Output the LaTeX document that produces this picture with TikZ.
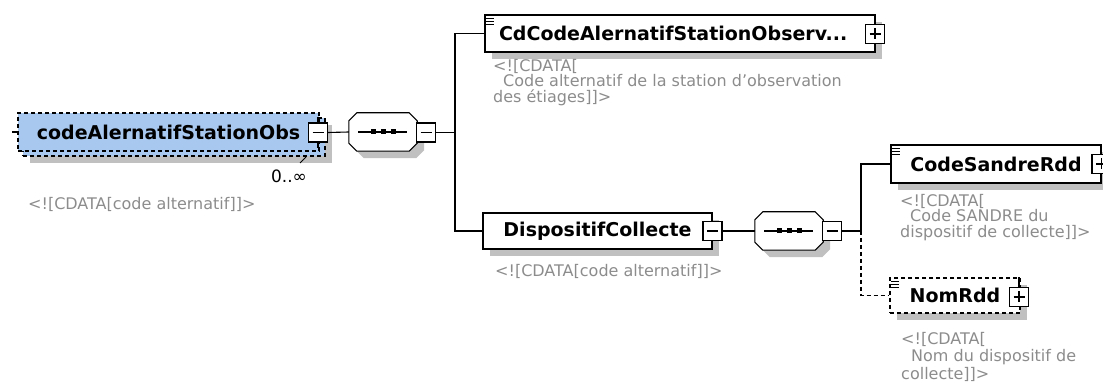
\documentclass[tikz,border=0pt]{standalone}
\usepackage{fontspec}
\setmainfont{DejaVu Sans}
\usepackage{xcolor}
\usetikzlibrary{shapes, arrows, positioning, calc, shadows}

\definecolor{elemblue}{RGB}{168,200,240}
\definecolor{shadowgray}{RGB}{192,192,192}
\definecolor{notegray}{RGB}{140,140,140}

% octagon of a sequence compositor, around an empty node
\newcommand{\octagon}[1]{($(#1.north west)+(8,0)$) -- ($(#1.north east)+(-8,0)$) -- ($(#1.north east)+(0,8)$)
  -- ($(#1.south east)+(0,-8)$) -- ($(#1.south east)+(-8,0)$) -- ($(#1.south west)+(8,0)$)
  -- ($(#1.south west)+(0,-8)$) -- ($(#1.north west)+(0,8)$) -- cycle}

\tikzset{
  box/.style={draw, fill=white, line width=1.1pt, inner sep=0, font=\bfseries\fontsize{19}{22}\selectfont},
  shade/.style={general shadow={fill=shadowgray, shadow xshift=7pt, shadow yshift=-7pt}},
  elem/.style={box, shade},
  optelem/.style={box, shade, dash pattern=on 4pt off 3pt},
  seqbox/.style={minimum width=68, minimum height=38, inner sep=0},
  seqline/.style={draw, fill=white, line width=1.1pt, shade},
  pmbox/.style={draw, fill=white, line width=1.1pt, minimum size=19, inner sep=0},
  minus/.style={pmbox, path picture={
    \draw[line width=1.1pt] ([xshift=4pt]path picture bounding box.west) -- ([xshift=-4pt]path picture bounding box.east);}},
  plus/.style={pmbox, path picture={
    \draw[line width=1.1pt] ([xshift=4pt]path picture bounding box.west) -- ([xshift=-4pt]path picture bounding box.east);
    \draw[line width=1.1pt] ([yshift=-4pt]path picture bounding box.north) -- ([yshift=4pt]path picture bounding box.south);}},
  conn/.style={line width=1.1pt},
  note/.style={text=notegray, font=\fontsize{16}{15.5}\selectfont, align=left, inner sep=0, anchor=north west}
}

\begin{document}
\begin{tikzpicture}[x=1pt, y=-1pt]
  \useasboundingbox (0,0) rectangle (1103,387);

  % root element (0..oo, so two boxes)
  \node[optelem, fill=elemblue, minimum width=302, minimum height=38] (rootback) at (174,137) {};
  \node[box, dash pattern=on 4pt off 3pt, fill=elemblue, minimum width=301, minimum height=38] (root) at (168.5,132) {codeAlernatifStationObs};
  \node[minus] (m0) at (318,132.5) {};
  \draw[conn] (m0.north) -- ++(0,-5);
  \draw[conn] (m0.south) -- ++(0,5);
  \node[font=\fontsize{17}{18}\selectfont, inner sep=0] (mult) at (289,176) {0..∞};
  \draw[line width=0.8pt] (300,163) -- (306,157);
  \node[note] (rootdoc) at (28,197) {<![CDATA[code alternatif]]>};

  % first sequence
  \node[seqbox] (seq1) at (383,132) {};
  \draw[seqline] \octagon{seq1};
  \node[minus] (m1) at (426,132.5) {};

  % children of the sequence
  \node[elem, minimum width=390, minimum height=37, text width=362, align=left] (cdcode) at (680,33.5) {CdCodeAlernatifStationObserv...};
  \node[plus] (p1) at (875,34) {};
  \node[note] (cdcodedoc) at (493,59) {<![CDATA[\\\hspace*{10pt}Code alternatif de la station d'observation\\des étiages]]>};

  \node[elem, minimum width=229, minimum height=36] (dispo) at (597.5,231) {DispositifCollecte};
  \node[minus] (m3) at (712.5,231) {};
  \node[note] (dispodoc) at (495,264) {<![CDATA[code alternatif]]>};

  % second sequence
  \node[seqbox] (seq2) at (789,231) {};
  \draw[seqline] \octagon{seq2};
  \node[minus] (m4) at (832,231) {};

  \node[elem, minimum width=210, minimum height=38] (sandre) at (996,164) {CodeSandreRdd};
  \node[plus] (p2) at (1101.5,164) {};
  \node[note] (sandredoc) at (900,194) {<![CDATA[\\\hspace*{10pt}Code SANDRE du\\dispositif de collecte]]>};

  \node[optelem, minimum width=130, minimum height=35] (nomrdd) at (955,295.5) {NomRdd};
  \node[plus] (p3) at (1019,297) {};
  \draw[conn] (p3.north) -- (p3.north |- nomrdd.north);
  \node[note, font=\fontsize{16}{17.5}\selectfont] (nomrdddoc) at (901,332) {<![CDATA[\\\hspace*{10pt}Nom du dispositif de\\collecte]]>};

  % dots of the sequences
  \foreach \s in {seq1,seq2} {
    \draw[line width=1.1pt] ([xshift=-25pt]\s.center) -- ([xshift=24pt]\s.center);
    \foreach \d in {-10,0,10}
      \fill ([xshift=\d pt]\s.center) ++(-2.5,-2.5) rectangle ++(5,5);
  }

  % doc marks
  \foreach \n in {cdcode,sandre,nomrdd}
    \foreach \k in {4,7,10}
      \draw[line width=0.8pt] ([shift={(2pt,-\k pt)}]\n.north west) -- ++(8,0);

  % connectors
  \coordinate (lstub) at (12,132);
  \coordinate (trunk1) at (455,132.5);
  \coordinate (trunk2) at (861,231);
  \draw[conn] (lstub) -- (root.west);
  \draw[conn] (m0.east) -- (seq1.west);
  \draw[conn] (m1.east) -- (trunk1);
  \draw[conn] (trunk1) |- (cdcode.west);
  \draw[conn] (trunk1) |- (dispo.west);
  \draw[conn] (m3.east) -- (seq2.west);
  \draw[conn] (m4.east) -- (trunk2);
  \draw[conn] (trunk2) |- (sandre.west);
  \draw[conn, dash pattern=on 4pt off 3pt] (trunk2) |- (nomrdd.west);
\end{tikzpicture}
\end{document}
